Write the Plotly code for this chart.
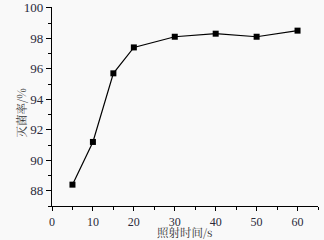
import plotly.graph_objects as go

time_s = [5, 10, 15, 20, 30, 40, 50, 60]
kill_rate = [88.4, 91.2, 95.7, 97.4, 98.1, 98.3, 98.1, 98.5]
x_ticks = [0, 10, 20, 30, 40, 50, 60]
y_ticks = [88, 90, 92, 94, 96, 98, 100]
x_title = "照射时间/s"
y_title = "灭菌率/%"

fig = go.Figure(go.Scatter(
    x=time_s, y=kill_rate, mode="lines+markers",
    line=dict(color="black", width=1.2),
    marker=dict(symbol="square", size=6, color="black"),
    cliponaxis=False,
))

font_serif = "'Liberation Serif', 'Times New Roman', Times, serif"
title_font = dict(family="Noto Serif CJK SC, Noto Sans CJK SC", size=11.5, color="#333")
axis_common = dict(
    showline=True, linecolor="black", linewidth=1.2, mirror=False,
    ticks="outside", tickwidth=1, tickcolor="black",
    showgrid=False, zeroline=False, automargin=False,
)
fig.update_layout(
    width=324, height=240,
    margin=dict(l=52, r=6, t=7, b=34),
    paper_bgcolor="#f9f9f9", plot_bgcolor="#f9f9f9",
    showlegend=False,
    xaxis=dict(range=[0, 65], tickvals=x_ticks, ticklen=4,
               tickfont=dict(family=font_serif, size=12, color="#2a2a3a"),
               minor=dict(tickvals=[5, 15, 25, 35, 45, 55, 65], ticks="outside", ticklen=3, tickcolor="black"),
               **axis_common),
    yaxis=dict(range=[87, 100.05], tickvals=y_ticks, tickmode="array", ticklen=5,
               tickfont=dict(family=font_serif, size=13, color="#2a2a3a"),
               minor=dict(tickvals=[87, 89, 91, 93, 95, 97, 99], ticks="outside", ticklen=3, tickcolor="black"),
               **axis_common),
    annotations=[
        dict(text=x_title, xref="paper", yref="paper", x=0.5, y=-0.1735,
             xanchor="center", yanchor="bottom", showarrow=False, font=title_font, borderpad=0),
        dict(text=y_title, xref="paper", yref="paper", x=-0.113, y=0.47,
             xanchor="center", yanchor="middle", textangle=-90, showarrow=False, font=title_font),
    ],
)
fig.write_html("out.html")
